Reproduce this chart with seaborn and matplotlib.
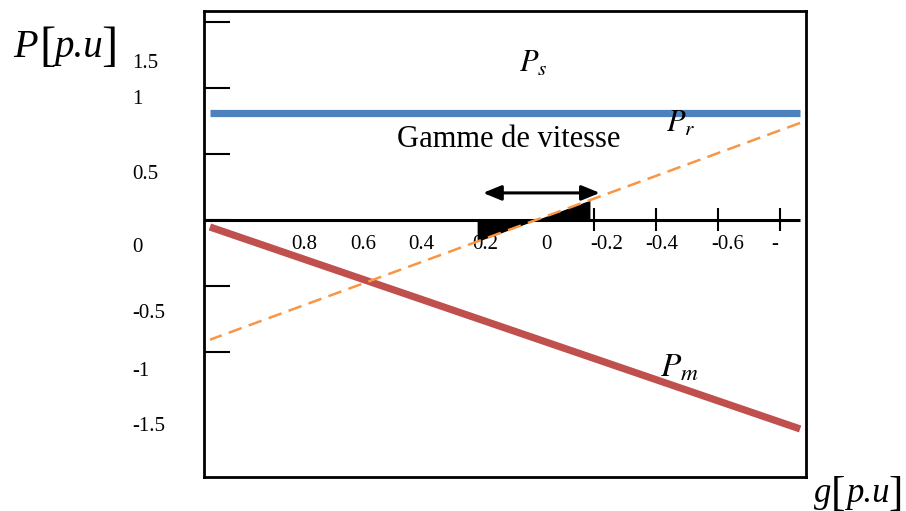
import numpy as np
import pandas as pd
import matplotlib
matplotlib.use("Agg")
import matplotlib.pyplot as plt
import matplotlib.transforms as mtransforms
import seaborn as sns

# Slip range covered by the three power curves (g decreases to the right)
slip = [1.039, -0.865]
p_stator = [0.807, 0.807]
p_rotor = [-0.907, 0.735]
p_mech = [-0.053, -1.583]

# Operating speed range around synchronism
speed_range = [0.177, -0.187]
arrow_span = [0.158, -0.219]
arrow_level = 0.205

# Axis ticks and their (hand-placed) labels
y_ticks = [1.5, 1.0, 0.5, 0.0, -0.5, -1.0]
y_tick_labels = ["1.5", "1", "0.5", "0", "-0.5", "-1", "-1.5"]
y_label_pos = [1.182, 0.909, 0.348, -0.205, -0.712, -1.144, -1.568]

x_ticks = [-0.2, -0.4, -0.6, -0.8]
x_tick_labels = ["0.8", "0.6", "0.4", "0.2", "0", "-0.2", "-0.4", "-0.6", "-"]
x_label_pos = [0.735, 0.545, 0.358, 0.152, -0.048, -0.242, -0.419, -0.632, -0.784]
x_label_level = -0.189

sns.set_theme(style="white")
plt.rcParams["font.family"] = ["Liberation Serif", "DejaVu Serif"]
plt.rcParams["mathtext.fontset"] = "stix"

W, H = 906, 511
fig = plt.figure(figsize=(W / 100, H / 100), dpi=100)
ax = fig.add_axes([0.2257, 0.0665, 0.6639, 0.912])

x_left, x_right = 1.0565, -0.8839
ax.set_xlim(x_left, x_right)
ax.set_ylim(-1.947, 1.583)

df = pd.DataFrame({
    "g": slip * 3,
    "P": p_stator + p_rotor + p_mech,
    "curve": ["Ps"] * 2 + ["Pr"] * 2 + ["Pm"] * 2,
})

sns.lineplot(data=df[df.curve == "Ps"], x="g", y="P", color="#4F81BD",
             lw=5.2, solid_capstyle="butt", ax=ax, legend=False, zorder=3)
sns.lineplot(data=df[df.curve == "Pm"], x="g", y="P", color="#C0504D",
             lw=5.2, solid_capstyle="butt", ax=ax, legend=False, zorder=3)
sns.lineplot(data=df[df.curve == "Pr"], x="g", y="P", color="#F79646",
             lw=1.8, linestyle=(0, (5.5, 3)), dash_capstyle="butt",
             ax=ax, legend=False, zorder=5)

# Horizontal g axis through zero, with its ticks
ax.hlines(0, x_left, slip[1] + 0.0005, color="black", lw=2.2, zorder=2)
ax.vlines(x_ticks, -0.083, 0.091, color="black", lw=1.5, zorder=2)

# Shaded rotor power over the speed range
g_fill = np.linspace(speed_range[0], speed_range[1], 50)
pr_fill = np.interp(g_fill, slip[::-1], p_rotor[::-1])
ax.fill_between(g_fill, 0, pr_fill, color="black", lw=0, zorder=4)

# Double arrow marking the speed range
ax.annotate("", xy=(arrow_span[1], arrow_level), xytext=(arrow_span[0], arrow_level),
            arrowprops=dict(arrowstyle="<|-|>,head_length=1.1,head_width=0.45",
                            color="black", lw=2.2, shrinkA=0, shrinkB=0,
                            mutation_scale=10), zorder=6)

ax.text(0.074, 0.553, "Gamme de vitesse", fontsize=22, ha="center", va="baseline",
        color="black")
ax.text(0.042, 1.121, r"$P_s$", fontsize=22, ha="left", va="baseline", color="black")
ax.text(-0.432, 0.667, r"$P_r$", fontsize=22, ha="left", va="baseline", color="black")
ax.text(-0.413, -1.189, r"$P_m$", fontsize=24, ha="left", va="baseline", color="black")

# Frame and y ticks
for sp in ax.spines.values():
    sp.set_visible(True)
    sp.set_color("black")
    sp.set_linewidth(2.0)
ax.set_yticks(y_ticks)
ax.set_xticks([])
ax.tick_params(axis="y", direction="in", length=19, width=1.5, color="black",
               left=True, labelleft=False)
ax.set_xlabel("")
ax.set_ylabel("")

trans = mtransforms.blended_transform_factory(ax.transAxes, ax.transData)
for lab, pos in zip(y_tick_labels, y_label_pos):
    ax.text(-0.1205, pos, lab, transform=trans, fontsize=15, ha="left",
            va="center", color="black")
for lab, pos in zip(x_tick_labels, x_label_pos):
    ax.text(pos, x_label_level, lab, fontsize=15, ha="center", va="center",
            color="black")


def unit_label(x0, base, pieces):
    """Write an axis unit label built from italic letters and tall brackets."""
    for dx, dy, txt, size, italic in pieces:
        fig.text((x0 + dx) / W, 1 - (base + dy) / H, txt, fontsize=size,
                 fontstyle="italic" if italic else "normal",
                 ha="left", va="baseline", color="black")


unit_label(13, 57, [
    (0, 0, "P", 29, True),
    (26, 3, "[", 35, False),
    (41, 0, "p.u", 28, True),
    (88, 3, "]", 35, False),
])
unit_label(814, 502, [
    (0, 0, "g", 25, True),
    (17, 3, "[", 31, False),
    (32, 0, "p.u", 25, True),
    (74, 3, "]", 31, False),
])

fig.savefig("out.png", dpi=100)
